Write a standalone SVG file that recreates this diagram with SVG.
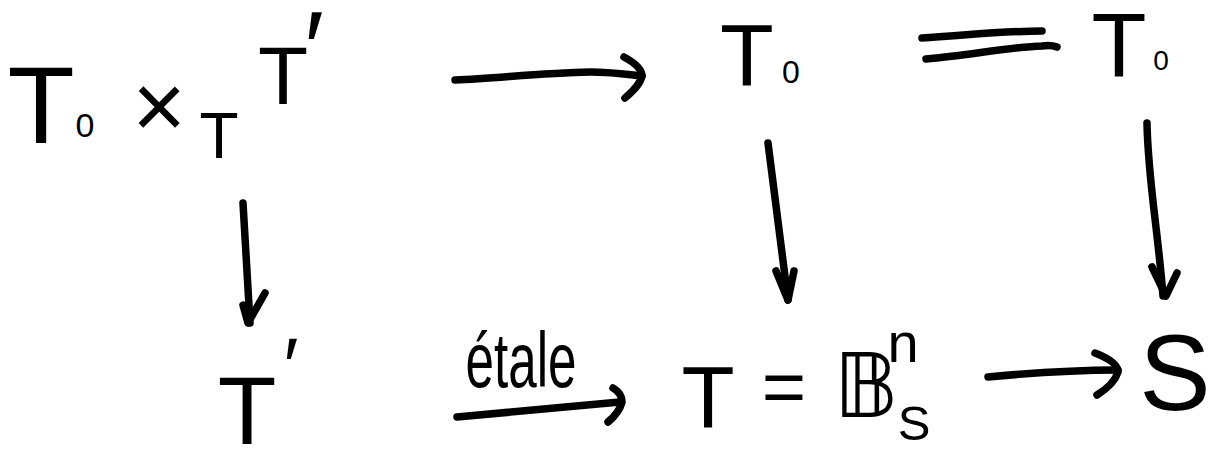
<svg xmlns="http://www.w3.org/2000/svg" width="1208" height="453" viewBox="0 0 1208 453">
<style>
text{font-family:"Liberation Sans","DejaVu Sans",sans-serif;fill:#000;text-anchor:middle}
.bb{font-family:"DejaVu Sans","Liberation Sans",sans-serif}
.ln{fill:none;stroke:#000;stroke-width:7.5;stroke-linecap:round;stroke-linejoin:round}
</style>
<rect width="1208" height="453" fill="#fff"/>
<g id="node-fiber-product">
<text><tspan x="41" y="143" font-size="110">T</tspan><tspan x="85" y="137" font-size="34">0</tspan><tspan x="159" y="138" font-size="92">×</tspan><tspan x="219" y="158" font-size="64">T</tspan><tspan x="283" y="104" font-size="82">T</tspan><tspan x="314" y="85" font-size="105">′</tspan></text>
</g>
<g id="node-T0-mid">
<text><tspan x="747" y="85" font-size="88">T</tspan><tspan x="791" y="83" font-size="32">0</tspan></text>
</g>
<g id="node-T0-right">
<text><tspan x="1119" y="77" font-size="90">T</tspan><tspan x="1161" y="70" font-size="28">0</tspan></text>
</g>
<g id="node-Tprime">
<text><tspan x="247" y="444" font-size="96">T</tspan><tspan x="291" y="394" font-size="80">′</tspan></text>
</g>
<g id="node-T-ball">
<text><tspan x="708" y="427" font-size="87">T</tspan><tspan x="784" y="413" font-size="76">=</tspan><tspan class="bb" x="866" y="417" font-size="89">𝔹</tspan><tspan x="903" y="362" font-size="56">n</tspan><tspan x="914" y="440" font-size="49">S</tspan></text>
</g>
<g id="node-S">
<text x="1175" y="410" font-size="107">S</text>
</g>
<g id="connectors">
<path class="ln" d="M455,80 C500,78 540,73 590,72 C610,72 625,74 642,76"/>
<path class="ln" d="M624,57 C635,63 642,70 642,76 C640,85 632,92 625,98"/>
<path class="ln" d="M922,38 C960,36 1000,31 1042,31"/>
<path class="ln" d="M926,59 C970,55 1010,47 1042,46 C1048,45 1052,45 1057,47"/>
<path class="ln" d="M243,203 L250,323"/>
<path class="ln" d="M243,305 L248,323 L265,293"/>
<path class="ln" d="M768,143 L788,300"/>
<path class="ln" d="M776,271 L788,300 L794,271"/>
<path class="ln" d="M1147,123 C1148,180 1158,230 1163,296"/>
<path class="ln" d="M1152,267 L1166,296 L1177,273"/>
<path class="ln" d="M457,417 C500,413 560,408 620,402"/>
<path class="ln" d="M613,388 C620,392 622,397 622,402 C620,410 614,417 608,422"/>
<path class="ln" d="M988,377 C1030,373 1080,370 1118,370"/>
<path class="ln" d="M1095,353 C1108,358 1118,364 1118,372 C1115,382 1105,390 1097,395"/>
<text x="521" y="387" font-size="78" textLength="111" lengthAdjust="spacingAndGlyphs">étale</text>
</g>
</svg>
